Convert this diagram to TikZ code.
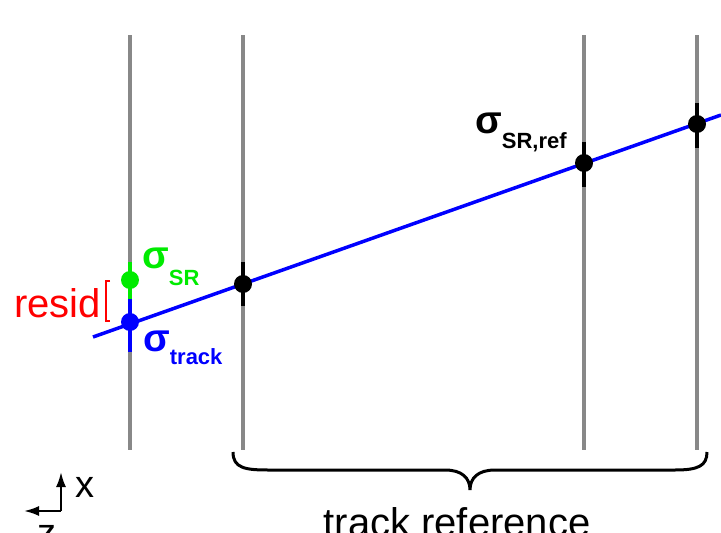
\documentclass[tikz,border=0pt]{standalone}
\usepackage{fontspec}
\setmainfont{Liberation Sans}
\usetikzlibrary{arrows.meta}
\definecolor{planegray}{RGB}{136,136,136}
\definecolor{srgreen}{RGB}{0,235,0}
\newcommand{\sigsub}[2]{{\fontsize{39}{39}\selectfont\bfseries σ}\raisebox{-#2}{\fontsize{22}{22}\selectfont\bfseries #1}}

\begin{document}
\begin{tikzpicture}[x=1pt,y=-1pt,axis/.style={-{Latex[length=15pt,width=10pt]},line width=2.2pt},plane/.style={draw=planegray,line width=3.5pt},bar/.style={line width=4pt},hit/.style={circle,fill,inner sep=0pt,minimum size=18pt},lbl/.style={anchor=base west,inner sep=0pt}]
\useasboundingbox (0,0) rectangle (721,533);
\draw[plane] (130,35) -- (130,450);
\draw[plane] (243,35) -- (243,450);
\draw[plane] (584,35) -- (584,450);
\draw[plane] (697,35) -- (697,450);
\draw[bar,srgreen] (130,262) -- (130,299);
\draw[bar,blue] (130,299) -- (130,352);
\draw[bar] (243,262) -- (243,306);
\draw[bar] (584,142) -- (584,187);
\draw[bar] (697,103) -- (697,148);
\coordinate (tstart) at (93,337);
\coordinate (tend) at (721,115);
\draw[blue,line width=3.5pt] (tstart) -- (tend);
\node[hit,srgreen] (srhit) at (130,280) {};
\node[hit,blue] (trkhit) at (130,322) {};
\node[hit] (ref1) at (243,284) {};
\node[hit] (ref2) at (584,163) {};
\node[hit] (ref3) at (697,124) {};
\draw[red,line width=1.3pt] (110,281) -- (106,281) -- (106,321) -- (110,321);
\node[lbl,red,font=\fontsize{40}{40}\selectfont] (resid) at (14,317) {resid};
\node[lbl,srgreen] (sigsr) at (142,268) {\sigsub{SR}{17pt}};
\node[lbl,blue] (sigtrk) at (143,351) {\sigsub{track}{13pt}};
\node[lbl] (sigref) at (475,133) {\sigsub{SR,ref}{15pt}};
\draw[line width=3pt] (233,452) .. controls (233,468) and (245,470) .. (268,470) -- (445,470) .. controls (462,470) and (470,478) .. (470,490) .. controls (470,478) and (478,470) .. (495,470) -- (675,470) .. controls (698,470) and (707,466) .. (707,452);
\node[anchor=base,inner sep=0pt,font=\fontsize{40}{40}\selectfont] (trkref) at (457,536) {track reference};
\coordinate (axo) at (61,511);
\coordinate (axx) at (61,472);
\coordinate (axz) at (24,511);
\draw[axis] (axo) -- (axx);
\draw[axis] (axo) -- (axz);
\node[lbl,font=\fontsize{38}{38}\selectfont] (xlbl) at (75,497) {x};
\node[lbl,font=\fontsize{38}{38}\selectfont] (zlbl) at (37,545) {z};
\end{tikzpicture}
\end{document}
